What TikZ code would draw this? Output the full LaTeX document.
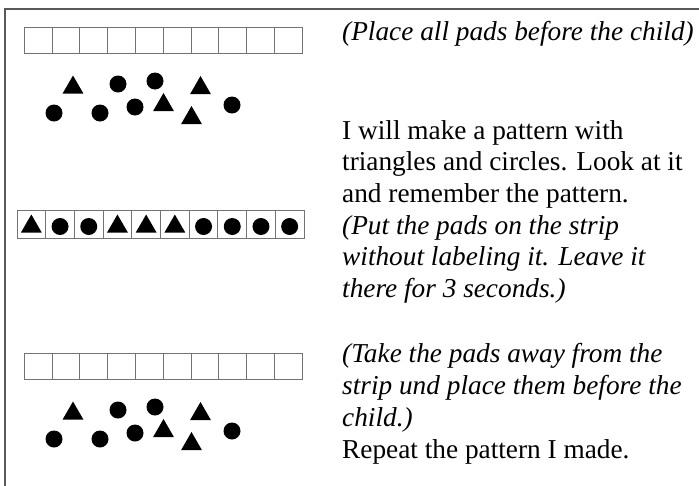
\documentclass[tikz,border=0pt]{standalone}
\usepackage{fontspec}
\setmainfont{Liberation Serif}
\usetikzlibrary{shapes.geometric}
\begin{document}
\begin{tikzpicture}[x=1pt, y=-1pt,
  cell/.style={draw=black!55, line width=0.9pt, minimum width=27.8pt, minimum height=26pt, inner sep=0},
  tri/.style={regular polygon, regular polygon sides=3, fill=black, minimum size=24pt, inner sep=0},
  dot/.style={circle, fill=black, minimum size=17pt, inner sep=0},
  say/.style={anchor=base west, align=left, inner sep=0, font=\fontsize{27.3}{31.7}\selectfont}]
  \useasboundingbox (0,0) rectangle (699,485);
  \clip (0,0) rectangle (699,485);
  \draw[black!65, line width=1.6pt] (5,9) rectangle (710,495);

  % empty strips
  \foreach \s/\y in {a/40, c/366}
    \foreach \i in {0,...,9}
      \node[cell] (\s\i) at (38.2+27.8*\i, \y) {};

  % strip with the pattern laid on it
  \foreach \p [count=\i from 0] in {tri,dot,dot,tri,tri,tri,dot,dot,dot,dot} {
    \node[cell, minimum width=28.7pt, minimum height=28pt] (b\i) at (31.35+28.7*\i, 224) {};
    \node[\p, yshift=-2.5pt] (p\i) at (b\i) {};
  }

  % loose pads before the child
  \foreach \s/\dy in {u/0, v/326}
    \foreach \p/\x/\y [count=\k] in {tri/73/87.5, dot/118/84, dot/155/81, tri/200.5/88,
        dot/54/113, dot/100/113, dot/135/107, tri/163.5/105, tri/191.5/118, dot/232/105}
      \node[\p] (\s\k) at (\x, \y+\dy) {};

  % instructions (base = last line)
  \node[say, font=\fontsize{27.3}{31.7}\selectfont\itshape] (t1) at (342, 40) {(Place all pads before the child)};
  \node[say] (t2) at (342, 297.5) {I will make a pattern with\\
    triangles and circles. Look at it\\
    and remember the pattern.\\
    \textit{(Put the pads on the strip}\\
    \textit{without labeling it. Leave it}\\
    \textit{there for 3 seconds.)}};
  \node[say] (t3) at (342, 458) {\textit{(Take the pads away from the}\\
    \textit{strip und place them before the}\\
    \textit{child.)}\\
    Repeat the pattern I made.};
\end{tikzpicture}
\end{document}
